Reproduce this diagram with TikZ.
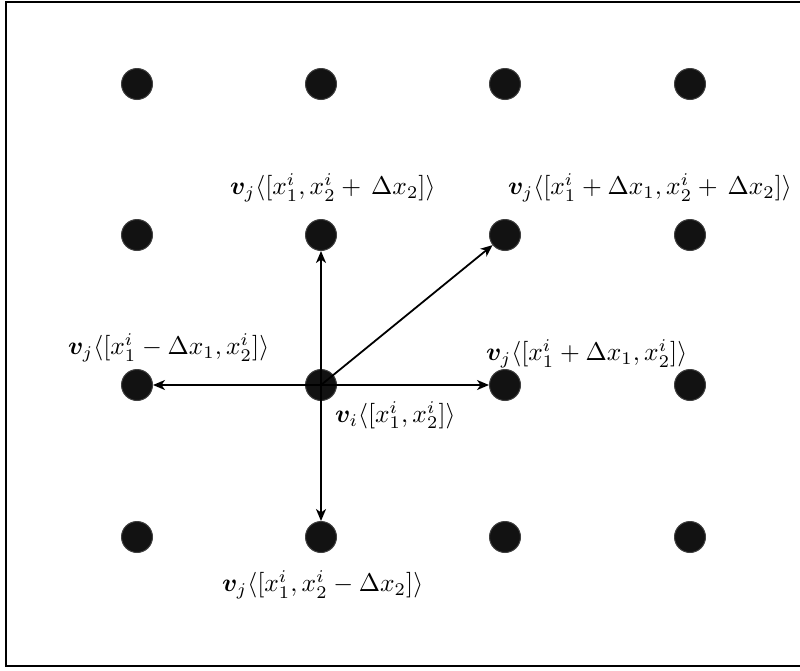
\documentclass[tikz,border=0pt]{standalone}
\usepackage{graphicx}
\usepackage{amsmath,bm}
\usetikzlibrary{arrows.meta}
\newcommand{\biglbl}[1]{\scalebox{2.55}{#1}}
\begin{document}
\begin{tikzpicture}[x=1pt,y=-1pt,
  dot/.style={circle,fill=black!93,draw=black!75,line width=1pt,minimum size=31pt,inner sep=0pt},
  lbl/.style={anchor=west,inner sep=0pt},
  arr/.style={line width=1.8pt,-{Stealth[length=12pt,width=10pt,inset=3.5pt]}}]
\useasboundingbox (0,0) rectangle (800,670);
\begin{scope}
\clip (0,0) rectangle (800,670);
\draw[line width=2.2pt] (6,2) rectangle (806,666);
\end{scope}
% dots
\foreach \c/\x in {1/137,2/321,3/505,4/690}{
  \foreach \r/\y in {1/84,2/235,3/385,4/537}{
    \node[dot] (d\r\c) at (\x,\y) {};
  }
}
% arrows
\draw[arr] (d32.center) -- (d22);
\draw[arr] (d32.center) -- (d42);
\draw[arr] (d32.center) -- (d31);
\draw[arr] (d32.center) -- (d33);
\draw[arr] (d32.center) -- (d23);
% labels
\node[lbl] (lt) at (230,188) {\biglbl{$\bm{v}_j\langle[x_1^i, x_2^i +\,\Delta x_2]\rangle$}};
\node[lbl] (ld) at (508,188) {\biglbl{$\bm{v}_j\langle[x_1^i + \Delta x_1, x_2^i +\,\Delta x_2]\rangle$}};
\node[lbl] (ll) at (68,348) {\biglbl{$\bm{v}_j\langle[x_1^i - \Delta x_1, x_2^i]\rangle$}};
\node[lbl] (lr) at (486,354) {\biglbl{$\bm{v}_j\langle[x_1^i + \Delta x_1, x_2^i]\rangle$}};
\node[lbl] (lc) at (335,415) {\biglbl{$\bm{v}_i\langle[x_1^i, x_2^i]\rangle$}};
\node[lbl] (lb) at (222,585) {\biglbl{$\bm{v}_j\langle[x_1^i, x_2^i - \Delta x_2]\rangle$}};
\end{tikzpicture}
\end{document}
